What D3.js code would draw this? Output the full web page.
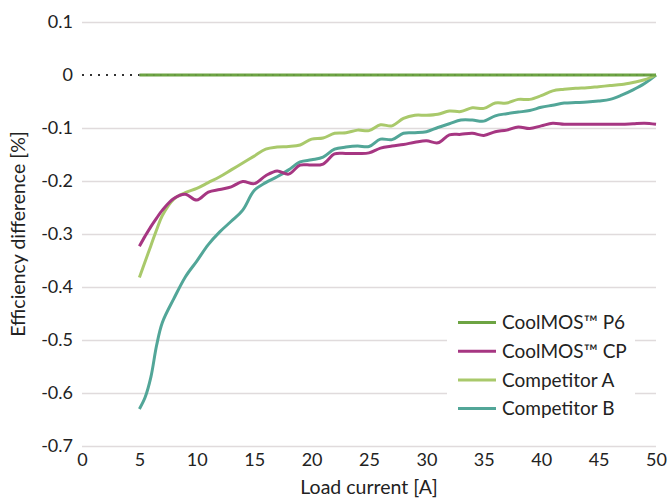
<!DOCTYPE html>
<html>
<head>
    <meta charset="utf-8">
    <title>Efficiency difference vs load current</title>
    <script src="https://d3js.org/d3.v7.min.js"></script>
    <style>
        body {
            margin: 0;
            background: white;
        }
        svg {
            font-family: Lato, "Noto Sans", sans-serif;
        }
        .grid line {
            stroke: #e0dbdc;
            stroke-width: 1.5px;
        }
    </style>
</head>
<body>
    <svg width="668" height="499"></svg>

<script>
    // values
    let loadCurrent = [5, 5.5, 6, 6.5, 7, 8, 9, 10, 11, 12, 13, 14, 15, 16, 17, 18, 19, 20,
        21, 22, 23, 24, 25, 26, 27, 28, 29, 30, 31, 32, 33, 34, 35, 36, 37, 38, 39, 40,
        41, 42, 43, 44, 45, 46, 47, 48, 49, 50];

    let p6 = loadCurrent.map(() => 0); // reference part, zero difference everywhere

    let cp = [-0.323, -0.304, -0.286, -0.270, -0.255, -0.233, -0.225, -0.236, -0.221, -0.216,
        -0.211, -0.201, -0.205, -0.190, -0.181, -0.187, -0.170, -0.170, -0.168, -0.149,
        -0.148, -0.148, -0.147, -0.138, -0.134, -0.131, -0.127, -0.124, -0.128, -0.113,
        -0.112, -0.110, -0.114, -0.107, -0.104, -0.098, -0.101, -0.096, -0.091, -0.093,
        -0.093, -0.093, -0.093, -0.093, -0.093, -0.092, -0.091, -0.093];

    let compA = [-0.382, -0.352, -0.322, -0.292, -0.265, -0.234, -0.222, -0.214, -0.203, -0.192,
        -0.179, -0.166, -0.153, -0.140, -0.136, -0.135, -0.132, -0.121, -0.119, -0.110,
        -0.109, -0.104, -0.105, -0.094, -0.096, -0.082, -0.076, -0.076, -0.074, -0.068,
        -0.069, -0.062, -0.063, -0.053, -0.053, -0.046, -0.046, -0.039, -0.030, -0.027,
        -0.025, -0.024, -0.022, -0.020, -0.018, -0.014, -0.009, 0];

    let compB = [-0.630, -0.608, -0.570, -0.510, -0.467, -0.422, -0.381, -0.351, -0.320, -0.296,
        -0.276, -0.255, -0.218, -0.203, -0.192, -0.179, -0.164, -0.160, -0.155, -0.140,
        -0.136, -0.134, -0.135, -0.121, -0.122, -0.110, -0.109, -0.107, -0.099, -0.092,
        -0.085, -0.085, -0.087, -0.077, -0.073, -0.070, -0.067, -0.061, -0.057, -0.053,
        -0.052, -0.051, -0.049, -0.046, -0.038, -0.028, -0.016, 0];

    let seriesNames = ["CoolMOS™ P6", "CoolMOS™ CP", "Competitor A", "Competitor B"];
    let seriesColors = ["#6da443", "#a63682", "#a9c96b", "#52a698"];

    let xTicks = [0, 5, 10, 15, 20, 25, 30, 35, 40, 45, 50];
    let yTicks = [0.1, 0, -0.1, -0.2, -0.3, -0.4, -0.5, -0.6, -0.7];
    let yTickLabels = ["0.1", "0", "-0.1", "-0.2", "-0.3", "-0.4", "-0.5", "-0.6", "-0.7"];

    let margin = { top: 22, right: 12, bottom: 53, left: 82 };
    let width = 668;
    let height = 499;

    let svg = d3.select("svg");

    let x = d3.scaleLinear()
        .domain([0, 50])
        .range([margin.left, width - margin.right]);

    let y = d3.scaleLinear()
        .domain([-0.7, 0.1])
        .range([height - margin.bottom, margin.top]);

    // horizontal gridlines (zero line is drawn dotted further down)
    svg.append("g")
        .attr("class", "grid")
        .attr("transform", `translate(${margin.left},0)`)
        .call(d3.axisLeft(y)
            .tickValues(yTicks.filter(d => d !== 0))
            .tickSize(-(width - margin.left - margin.right))
            .tickFormat(""))
        .call(g => g.select(".domain").remove());

    // y tick labels
    svg.append("g")
        .attr("transform", `translate(${margin.left},0)`)
        .call(d3.axisLeft(y)
            .tickValues(yTicks)
            .tickSize(0)
            .tickPadding(9)
            .tickFormat((d, i) => yTickLabels[i]))
        .call(g => g.select(".domain").remove())
        .selectAll("text")
        .attr("font-size", "18px")
        .attr("font-family", "Lato, 'Noto Sans', sans-serif")
        .attr("fill", "#222");

    // x tick labels
    svg.append("g")
        .attr("transform", `translate(0,${height - margin.bottom})`)
        .call(d3.axisBottom(x)
            .tickValues(xTicks)
            .tickSize(0)
            .tickPadding(7)
            .tickFormat(d3.format("d")))
        .call(g => g.select(".domain").remove())
        .selectAll("text")
        .attr("font-size", "18px")
        .attr("font-family", "Lato, 'Noto Sans', sans-serif")
        .attr("fill", "#222");

    // axis titles
    svg.append("text")
        .text("Load current [A]")
        .attr("x", (margin.left + width - margin.right) / 2)
        .attr("y", 494)
        .attr("text-anchor", "middle")
        .attr("font-size", "19.5px")
        .attr("fill", "#222");

    svg.append("text")
        .text("Efficiency difference [%]")
        .attr("transform", `translate(25,${(margin.top + height - margin.bottom) / 2}) rotate(-90)`)
        .attr("text-anchor", "middle")
        .attr("font-size", "19.5px")
        .attr("fill", "#222");

    // series
    let allSeries = [p6, cp, compA, compB];

    let line = d3.line()
        .x((d, i) => x(loadCurrent[i]))
        .y(d => y(d))
        .curve(d3.curveCatmullRom.alpha(0.5));

    // draw back to front so P6 sits on top like in the original
    let drawOrder = [3, 2, 1, 0];
    drawOrder.forEach(k => {
        svg.append("path")
            .datum(allSeries[k])
            .attr("d", line)
            .attr("fill", "none")
            .attr("stroke", seriesColors[k])
            .attr("stroke-width", 3);
    });

    // dotted zero line
    svg.append("line")
        .attr("x1", x(0))
        .attr("x2", x(5))
        .attr("y1", y(0))
        .attr("y2", y(0))
        .attr("stroke", "#333")
        .attr("stroke-width", 2)
        .attr("stroke-dasharray", "2,6");

    svg.append("line")
        .attr("x1", x(5))
        .attr("x2", x(50))
        .attr("y1", y(0))
        .attr("y2", y(0))
        .attr("stroke", "#333")
        .attr("stroke-opacity", 0.25)
        .attr("stroke-width", 1.5)
        .attr("stroke-dasharray", "1,6");

    // legend
    let legend = svg.append("g");

    legend.append("rect")
        .attr("x", 447)
        .attr("y", 303)
        .attr("width", 188)
        .attr("height", 122)
        .attr("fill", "white");

    let legendRows = legend.selectAll(".row")
        .data(seriesNames)
        .join("g")
        .attr("class", "row")
        .attr("transform", (d, i) => `translate(458,${322.5 + i * 28.7})`);

    legendRows.append("line")
        .attr("x1", 0)
        .attr("x2", 38)
        .attr("stroke", (d, i) => seriesColors[i])
        .attr("stroke-width", 3);

    legendRows.append("text")
        .text(d => d)
        .attr("x", 44)
        .attr("dy", "0.35em")
        .attr("font-size", "19px")
        .attr("fill", "#222");
</script>
</body>
</html>
